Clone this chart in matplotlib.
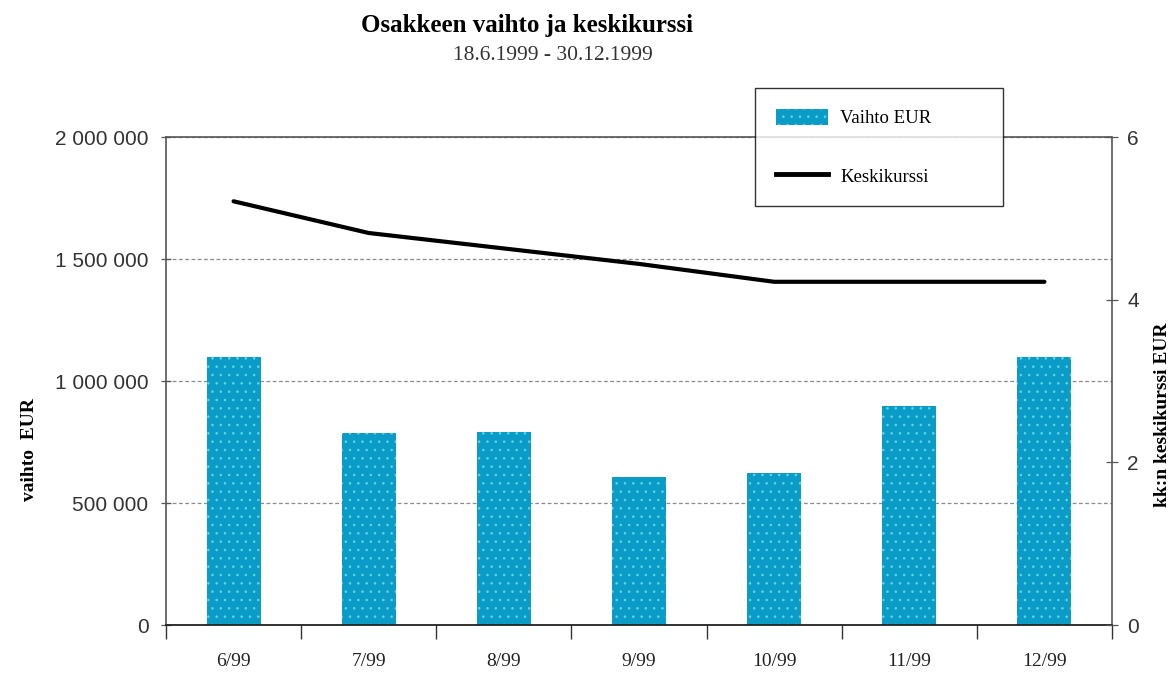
import matplotlib
matplotlib.use("Agg")
import matplotlib.pyplot as plt
from matplotlib.ticker import FuncFormatter, FixedLocator
from matplotlib.patches import Patch
from matplotlib.lines import Line2D

# ---- data ----
months = ["6/99", "7/99", "8/99", "9/99", "10/99", "11/99", "12/99"]
vaihto_eur = [1100000, 787000, 792000, 605000, 625000, 898000, 1100000]
keskikurssi = [5.21, 4.82, 4.63, 4.44, 4.22, 4.22, 4.22]
left_ticks = [0, 500000, 1000000, 1500000, 2000000]
right_ticks = [0, 2, 4, 6]

title = "Osakkeen vaihto ja keskikurssi"
subtitle = "18.6.1999 - 30.12.1999"
left_label = "vaihto  EUR"
right_label = "kk:n keskikurssi EUR"
legend_labels = ["Vaihto EUR", "Keskikurssi"]

serif = "Liberation Serif"
sans = "Liberation Sans"
bar_color = "#0a9cc6"
grid_color = "#8a8a8a"
spine_color = "#555555"

plt.rcParams["hatch.linewidth"] = 0.6
fig = plt.figure(figsize=(11.73, 6.73), dpi=100)
ax = fig.add_axes([0.1415, 0.0713, 0.8065, 0.7251])
ax2 = ax.twinx()

x = list(range(len(months)))
ax.set_axisbelow(True)
ax.bar(x, vaihto_eur, width=0.4, color=bar_color, edgecolor="#5fd6e6",
       linewidth=0, hatch="..", zorder=2)

ax.set_xlim(-0.5, len(months) - 0.5)
ax.set_ylim(0, 2000000)
ax.yaxis.set_major_locator(FixedLocator(left_ticks))
ax.yaxis.set_major_formatter(FuncFormatter(lambda v, p: f"{int(v):,}".replace(",", " ")))
ax.yaxis.grid(True, linestyle=(0, (3, 2)), color=grid_color, linewidth=0.9)

ax.set_xticks(x)
ax.set_xticklabels(months, fontfamily=serif, fontsize=14, color="#222222")
ax.set_xticks([i - 0.5 for i in range(len(months) + 1)], minor=True)
ax.tick_params(axis="x", which="major", length=0, pad=20)
ax.tick_params(axis="x", which="minor", direction="out", length=10, width=1.0, color="#333333")
ax.tick_params(axis="y", direction="inout", length=7, width=0.9, color=spine_color,
               labelsize=15, labelcolor="#333333", pad=9)
for lab in ax.get_yticklabels():
    lab.set_fontfamily(sans)

for s in ["left", "right", "top"]:
    ax.spines[s].set_color(spine_color)
    ax.spines[s].set_linewidth(1.2)
ax.spines["top"].set_linestyle((0, (3, 1)))
ax.spines["bottom"].set_color("#222222")
ax.spines["bottom"].set_linewidth(1.3)

ax2.plot(x, keskikurssi, color="black", linewidth=3.0, solid_capstyle="round", zorder=3)
ax2.set_ylim(0, 6)
ax2.yaxis.set_major_locator(FixedLocator(right_ticks))
ax2.tick_params(axis="y", direction="inout", length=8, width=0.9, color=spine_color,
                labelsize=15, labelcolor="#333333", pad=7)
for lab in ax2.get_yticklabels():
    lab.set_fontfamily(sans)
for s in ["left", "right", "top", "bottom"]:
    ax2.spines[s].set_visible(False)

ax.set_ylabel(left_label, fontfamily=serif, fontweight="bold", fontsize=14)
ax.yaxis.set_label_coords(-0.135, 0.36)
ax2.set_ylabel(right_label, fontfamily=serif, fontweight="bold", fontsize=14)
ax2.yaxis.set_label_coords(1.044, 0.43)

fig.text(0.449, 0.962, title, ha="center", va="center", fontfamily=serif,
         fontweight="bold", fontsize=18)
fig.text(0.471, 0.918, subtitle, ha="center", va="center", fontfamily=serif,
         fontsize=15.5, color="#333333")

handles = [Patch(facecolor=bar_color, edgecolor="#5fd6e6", hatch="..", linewidth=0),
           Line2D([0], [0], color="black", linewidth=3.5)]
leg = fig.legend(handles, legend_labels, loc="upper left",
                 bbox_to_anchor=(0.6436, 0.6909, 0.2114, 0.1783), mode="expand",
                 borderaxespad=0.0,
                 prop={"family": serif, "size": 13.5}, frameon=True, fancybox=False,
                 edgecolor="black", borderpad=1.1, labelspacing=2.1,
                 handlelength=2.8, handleheight=1.0, handletextpad=0.65)
leg.get_frame().set_linewidth(1.0)

fig.savefig("out.png", dpi=100)
